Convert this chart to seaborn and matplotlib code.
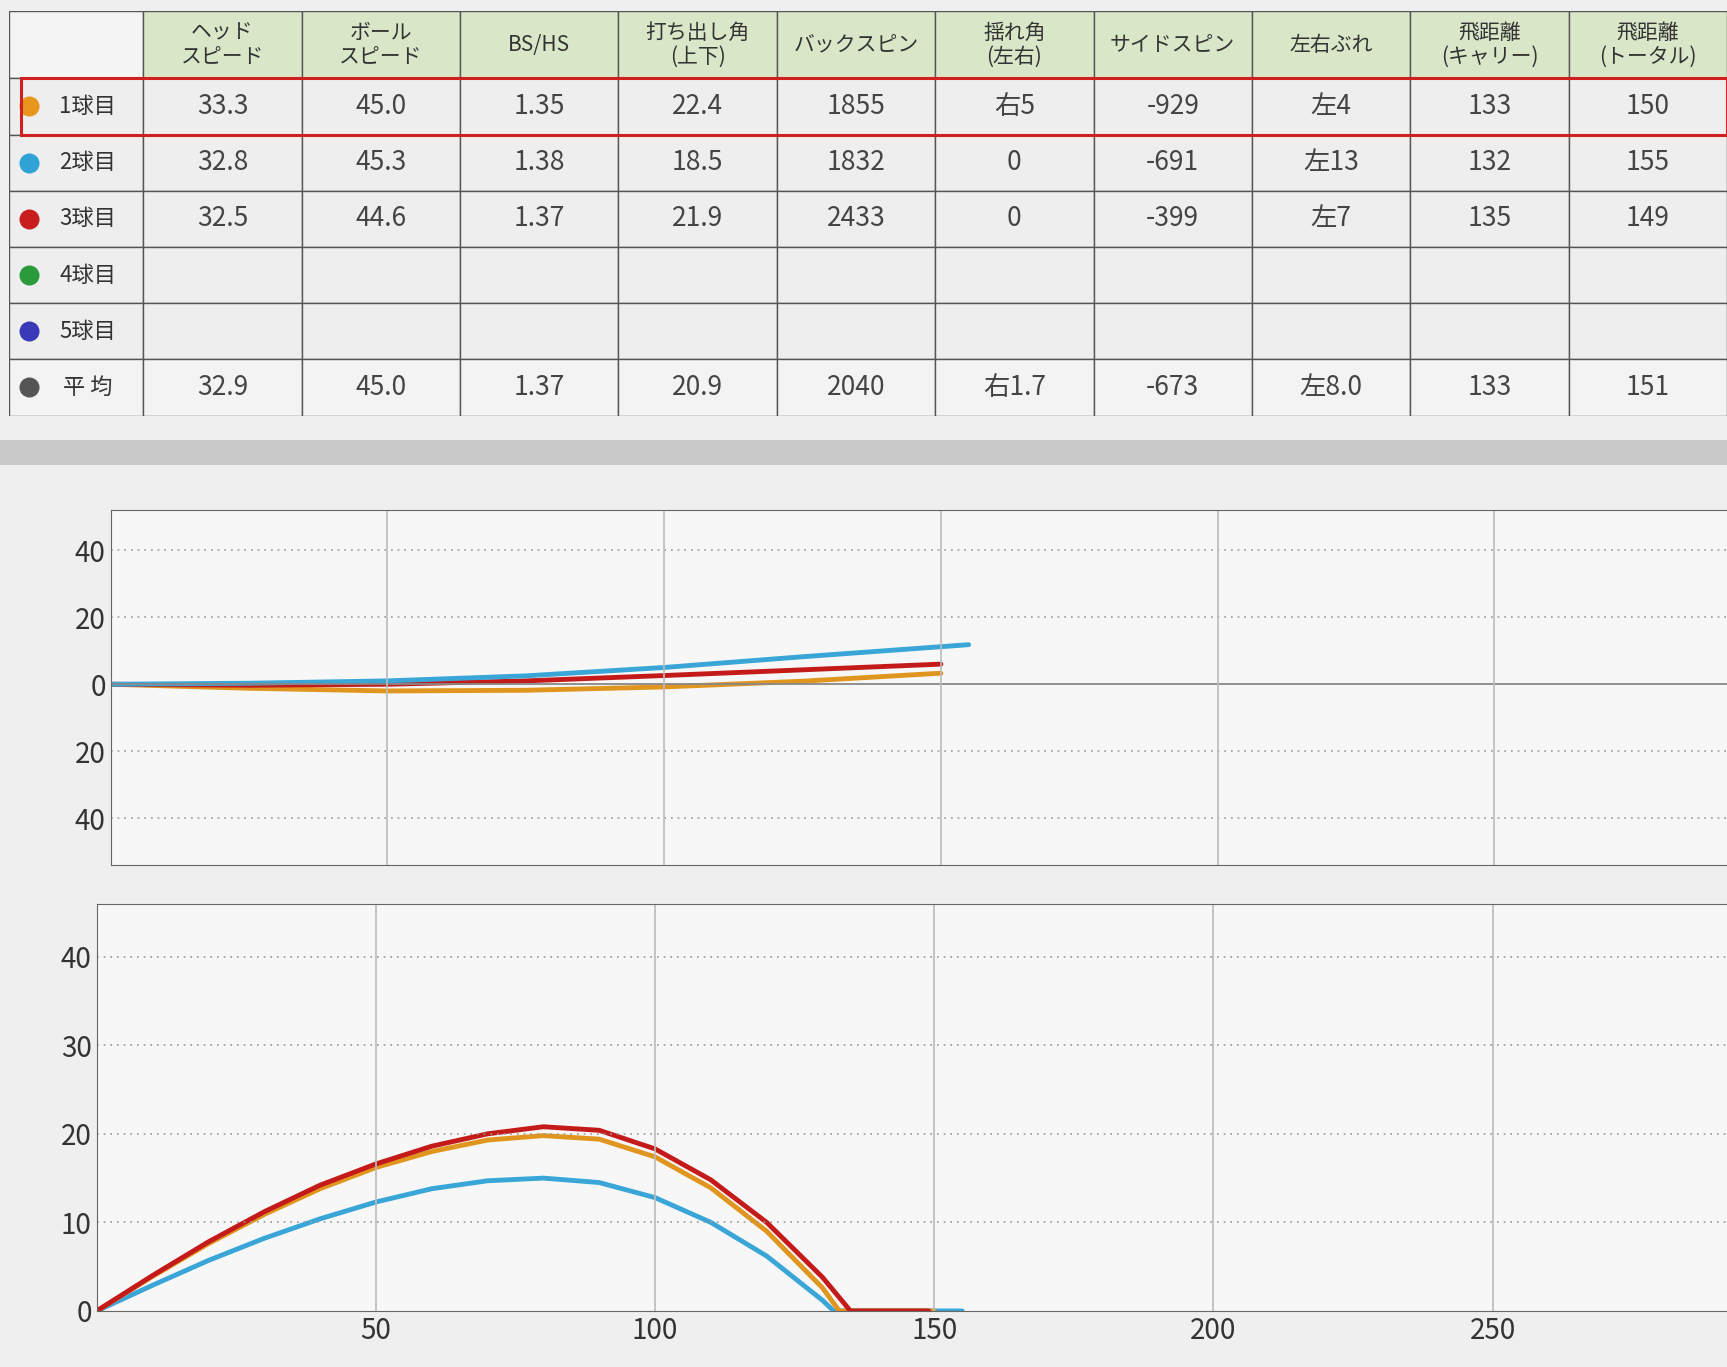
import matplotlib
matplotlib.use("Agg")
import matplotlib.pyplot as plt
import seaborn as sns
from matplotlib.patches import Rectangle

sns.set_style("white")
plt.rcParams['font.family'] = ['Noto Sans CJK JP', 'DejaVu Sans']

# table data
headers = ["ヘッド\nスピード", "ボール\nスピード", "BS/HS", "打ち出し角\n(上下)", "バックスピン",
           "揺れ角\n(左右)", "サイドスピン", "左右ぶれ", "飛距離\n(キャリー)", "飛距離\n(トータル)"]
row_labels = ["1球目", "2球目", "3球目", "4球目", "5球目", "平 均"]
dot_colors = ["#e8961e", "#2fa3d6", "#c81e1e", "#2a9a3a", "#3a3ab8", "#555555"]
rows = [
    ["33.3", "45.0", "1.35", "22.4", "1855", "右5", "-929", "左4", "133", "150"],
    ["32.8", "45.3", "1.38", "18.5", "1832", "0", "-691", "左13", "132", "155"],
    ["32.5", "44.6", "1.37", "21.9", "2433", "0", "-399", "左7", "135", "149"],
    [""] * 10,
    [""] * 10,
    ["32.9", "45.0", "1.37", "20.9", "2040", "右1.7", "-673", "左8.0", "133", "151"],
]

# side view (distance, height)
shot_colors = {"1球目": "#e0961e", "2球目": "#3aa6d8", "3球目": "#c41a1a"}
side_x1 = [0, 10, 20, 30, 40, 50, 60, 70, 80, 90, 100, 110, 120, 130, 133, 150]
side_y1 = [0, 3.9, 7.6, 10.9, 13.8, 16.2, 18.0, 19.3, 19.8, 19.4, 17.4, 13.9, 9.0, 2.6, 0, 0]
side_x2 = [0, 10, 20, 30, 40, 50, 60, 70, 80, 90, 100, 110, 120, 130, 132, 155]
side_y2 = [0, 2.9, 5.7, 8.2, 10.4, 12.3, 13.8, 14.7, 15.0, 14.5, 12.8, 10.0, 6.2, 1.2, 0, 0]
side_x3 = [0, 10, 20, 30, 40, 50, 60, 70, 80, 90, 100, 110, 120, 130, 135, 149]
side_y3 = [0, 4.0, 7.8, 11.2, 14.2, 16.6, 18.6, 20.0, 20.8, 20.4, 18.3, 14.8, 10.0, 3.8, 0, 0]

# top view (distance, lateral)
top_x1 = [0, 25, 50, 75, 100, 125, 150]
top_y1 = [0, -1.2, -2.0, -1.8, -0.8, 0.9, 3.3]
top_x2 = [0, 25, 50, 75, 100, 125, 155]
top_y2 = [0, 0.3, 1.0, 2.5, 5.0, 8.2, 11.8]
top_x3 = [0, 25, 50, 75, 100, 125, 150]
top_y3 = [0, -0.3, 0.0, 1.0, 2.6, 4.3, 6.0]

fig = plt.figure(figsize=(17.27, 13.67), dpi=100)
fig.patch.set_facecolor("#efefef")

# separator band
fig.patches.append(Rectangle((0, 0.66), 1, 0.018, transform=fig.transFigure,
                             facecolor="#c9c9c9", edgecolor="none"))

# ---- table ----
ax_t = fig.add_axes([0.005, 0.696, 0.995, 0.296])
ax_t.set_xlim(0, 10.85)
ax_t.set_ylim(6.2, 0)
ax_t.axis("off")
col_x = [0, 0.85] + [0.85 + i for i in range(1, 11)]
row_h = [1.2, 1, 1, 1, 1, 1, 1]
ys = [0]
for h in row_h:
    ys.append(ys[-1] + h)
ys = [y * 6.2 / ys[-1] for y in ys]

for r in range(7):
    for c in range(11):
        x0, x1 = col_x[c], col_x[c + 1]
        y0, y1 = ys[r], ys[r + 1]
        if r == 0:
            fc = "#f4f4f4" if c == 0 else "#d9e7c8"
        else:
            fc = "#eeeeee" if r < 6 else "#f3f3f3"
        ax_t.add_patch(Rectangle((x0, y0), x1 - x0, y1 - y0, facecolor=fc,
                                 edgecolor="#555555", linewidth=1.0))
        cx, cy = (x0 + x1) / 2, (y0 + y1) / 2
        if r == 0 and c > 0:
            ax_t.text(cx, cy, headers[c - 1], ha="center", va="center", fontsize=15,
                      color="#333333", linespacing=1.1)
        elif r > 0 and c == 0:
            ax_t.scatter([x0 + 0.13], [cy], s=180, color=dot_colors[r - 1], zorder=3)
            ax_t.text(x0 + 0.5, cy, row_labels[r - 1], ha="center", va="center",
                      fontsize=16, color="#333333")
        elif r > 0:
            ax_t.text(cx, cy, rows[r - 1][c - 1], ha="center", va="center",
                      fontsize=19, color="#444444")
ax_t.add_patch(Rectangle((0.08, ys[1]), 10.77, ys[2] - ys[1], facecolor="none",
                         edgecolor="#d02020", linewidth=2.2, zorder=4))

grid_kw = dict(color="#999999", linestyle=(0, (1, 3)), linewidth=1.2)

# ---- top view ----
ax1 = fig.add_axes([0.064, 0.367, 0.936, 0.26])
for xs, ysr, name in [(top_x1, top_y1, "1球目"), (top_x3, top_y3, "3球目"), (top_x2, top_y2, "2球目")]:
    sns.lineplot(x=xs, y=ysr, ax=ax1, color=shot_colors[name], linewidth=3.5)
ax1.set_xlim(0, 292)
ax1.set_ylim(-54, 52)
ax1.set_xticks([50, 100, 150, 200, 250])
ax1.set_xticklabels([])
ax1.set_yticks([-40, -20, 0, 20, 40])
ax1.set_yticklabels(["40", "20", "0", "20", "40"], fontsize=20)
for v in [-40, -20, 20, 40]:
    ax1.axhline(v, **grid_kw)
ax1.axhline(0, color="#888888", linewidth=1.3)
for v in [50, 100, 150, 200, 250]:
    ax1.axvline(v, color="#bbbbbb", linewidth=1.2)

# ---- side view ----
ax2 = fig.add_axes([0.056, 0.041, 0.944, 0.298])
for xs, ysr, name in [(side_x2, side_y2, "2球目"), (side_x1, side_y1, "1球目"), (side_x3, side_y3, "3球目")]:
    sns.lineplot(x=xs, y=ysr, ax=ax2, color=shot_colors[name], linewidth=3.5)
ax2.set_xlim(0, 292)
ax2.set_ylim(0, 46)
ax2.set_xticks([50, 100, 150, 200, 250])
ax2.set_xticklabels(["50", "100", "150", "200", "250"], fontsize=20)
ax2.set_yticks([0, 10, 20, 30, 40])
ax2.set_yticklabels(["0", "10", "20", "30", "40"], fontsize=20)
for v in [10, 20, 30, 40]:
    ax2.axhline(v, **grid_kw)
for v in [50, 100, 150, 200, 250]:
    ax2.axvline(v, color="#bbbbbb", linewidth=1.2)

for ax in (ax1, ax2):
    ax.set_facecolor("#f7f7f7")
    ax.tick_params(length=0, colors="#333333")
    for s in ax.spines.values():
        s.set_color("#666666")
    ax.spines["right"].set_visible(False)

fig.savefig("out.png", dpi=100, facecolor=fig.get_facecolor())
plt.close(fig)
